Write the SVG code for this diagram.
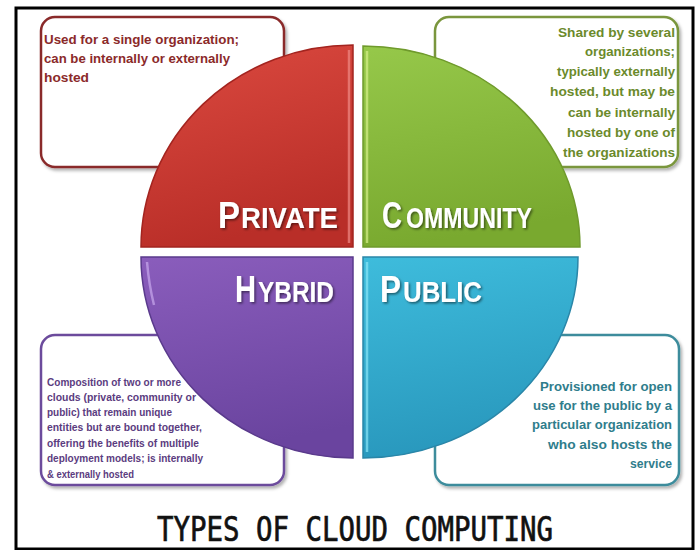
<svg xmlns="http://www.w3.org/2000/svg" width="700" height="550" viewBox="0 0 700 550">
  <defs>
    <linearGradient id="gRed" x1="0" y1="0" x2="0.3" y2="1">
      <stop offset="0" stop-color="#dc4a40"/>
      <stop offset="1" stop-color="#b92e28"/>
    </linearGradient>
    <linearGradient id="gGreen" x1="0" y1="0" x2="0.2" y2="1">
      <stop offset="0" stop-color="#96c84a"/>
      <stop offset="1" stop-color="#79a92f"/>
    </linearGradient>
    <linearGradient id="gPurple" x1="0" y1="0" x2="0.2" y2="1">
      <stop offset="0" stop-color="#8a5dbc"/>
      <stop offset="1" stop-color="#6a449f"/>
    </linearGradient>
    <linearGradient id="gBlue" x1="0" y1="0" x2="0.2" y2="1">
      <stop offset="0" stop-color="#3ebcdc"/>
      <stop offset="1" stop-color="#2998bd"/>
    </linearGradient>
    <filter id="shadow" x="-10%" y="-10%" width="125%" height="125%">
      <feDropShadow dx="2" dy="2.5" stdDeviation="1.5" flood-color="#000" flood-opacity="0.3"/>
    </filter>
    <filter id="textShadow" x="-10%" y="-20%" width="125%" height="150%">
      <feDropShadow dx="1.5" dy="1.5" stdDeviation="0.8" flood-color="#000" flood-opacity="0.5"/>
    </filter>
  </defs>
  <style>
    .box { fill: #ffffff; stroke-width: 2.5; filter: url(#shadow); }
    .desc { font-family: "Liberation Sans", Arial, sans-serif; font-weight: bold; font-size: 12px; }
    .small { font-size: 10px; }
    .label { font-family: "Liberation Sans", Arial, sans-serif; font-weight: bold; fill: #ffffff; filter: url(#textShadow); }
    .big { font-size: 36px; }
    .sc { font-size: 29px; }
    .title { font-family: "DejaVu Sans Mono", "Liberation Mono", monospace; font-size: 33px; fill: #111111; stroke: #111111; stroke-width: 0.7; }
    .quarter { stroke-width: 1.5; }
    .shine { fill: none; stroke-width: 2.5; stroke-opacity: 0.7; }
  </style>

  <rect x="0" y="0" width="700" height="550" fill="#ffffff"/>
  <!-- outer frame -->
  <rect x="16" y="8" width="677" height="541" fill="none" stroke="#000000" stroke-width="3"/>

  <!-- description boxes (drawn below the disc) -->
  <g id="private-note">
    <rect class="box" x="41" y="17" width="243" height="150" rx="14" stroke="#8a2c2c"/>
    <g class="desc" fill="#8b2a2a">
      <text x="44" y="44" textLength="195" lengthAdjust="spacingAndGlyphs">Used for a single organization;</text>
      <text x="44" y="63" textLength="186" lengthAdjust="spacingAndGlyphs">can be internally or externally</text>
      <text x="44" y="82" textLength="45" lengthAdjust="spacingAndGlyphs">hosted</text>
    </g>
  </g>

  <g id="community-note">
    <rect class="box" x="435" y="17" width="243" height="150" rx="14" stroke="#7a963c"/>
    <g class="desc" fill="#6b8a2b" text-anchor="end">
      <text x="675" y="37" textLength="117" lengthAdjust="spacingAndGlyphs">Shared by several</text>
      <text x="675" y="56" textLength="90" lengthAdjust="spacingAndGlyphs">organizations;</text>
      <text x="675" y="76" textLength="118" lengthAdjust="spacingAndGlyphs">typically externally</text>
      <text x="675" y="96" textLength="125" lengthAdjust="spacingAndGlyphs">hosted, but may be</text>
      <text x="675" y="117" textLength="107" lengthAdjust="spacingAndGlyphs">can be internally</text>
      <text x="675" y="137" textLength="108" lengthAdjust="spacingAndGlyphs">hosted by one of</text>
      <text x="675" y="157" textLength="112" lengthAdjust="spacingAndGlyphs">the organizations</text>
    </g>
  </g>

  <g id="hybrid-note">
    <rect class="box" x="41" y="335" width="243" height="150" rx="14" stroke="#6c4c9c"/>
    <g class="desc small" fill="#5b3c80">
      <text x="47" y="386" textLength="134" lengthAdjust="spacingAndGlyphs">Composition of two or more</text>
      <text x="47" y="401" textLength="149" lengthAdjust="spacingAndGlyphs">clouds (private, community or</text>
      <text x="47" y="416" textLength="125" lengthAdjust="spacingAndGlyphs">public) that remain unique</text>
      <text x="47" y="431" textLength="155" lengthAdjust="spacingAndGlyphs">entities but are bound together,</text>
      <text x="47" y="447" textLength="152" lengthAdjust="spacingAndGlyphs">offering the benefits of multiple</text>
      <text x="47" y="462" textLength="156" lengthAdjust="spacingAndGlyphs">deployment models; is internally</text>
      <text x="47" y="478" textLength="87" lengthAdjust="spacingAndGlyphs">&amp; externally hosted</text>
    </g>
  </g>

  <g id="public-note">
    <rect class="box" x="435" y="335" width="244" height="150" rx="14" stroke="#3c8c9c"/>
    <g class="desc" fill="#2f7d8c" text-anchor="end">
      <text x="672" y="391" textLength="132" lengthAdjust="spacingAndGlyphs">Provisioned for open</text>
      <text x="672" y="410" textLength="139" lengthAdjust="spacingAndGlyphs">use for the public by a</text>
      <text x="672" y="429" textLength="140" lengthAdjust="spacingAndGlyphs">particular organization</text>
      <text x="672" y="449" textLength="124" lengthAdjust="spacingAndGlyphs">who also hosts the</text>
      <text x="672" y="468" textLength="42" lengthAdjust="spacingAndGlyphs">service</text>
    </g>
  </g>

  <!-- the four quarters of the disc -->
  <g id="private">
    <path class="quarter" d="M353,247 L141,247 A212,202 0 0 1 353,45 Z" fill="url(#gRed)" stroke="#a3241f"/>
    <path class="shine" d="M349,50 L349,243" stroke="#f08a84"/>
    <g class="label">
      <text class="big" x="218" y="228" textLength="22" lengthAdjust="spacingAndGlyphs">P</text>
      <text class="sc" x="241" y="228" textLength="97" lengthAdjust="spacingAndGlyphs">RIVATE</text>
    </g>
  </g>

  <g id="community">
    <path class="quarter" d="M363,247 L363,46 A217,201 0 0 1 580,247 Z" fill="url(#gGreen)" stroke="#6f9a2c"/>
    <path class="shine" d="M367,51 L367,243" stroke="#d6ef8a"/>
    <g class="label">
      <text class="big" x="382" y="228" textLength="20" lengthAdjust="spacingAndGlyphs">C</text>
      <text class="sc" x="406" y="228" textLength="126" lengthAdjust="spacingAndGlyphs">OMMUNITY</text>
    </g>
  </g>

  <g id="hybrid">
    <path class="quarter" d="M353,257 L353,458 A212,201 0 0 1 141,257 Z" fill="url(#gPurple)" stroke="#5a3a8c"/>
    <path class="shine" d="M147,262 Q149,285 154,305" stroke="#c7a8ec"/>
    <g class="label">
      <text class="big" x="235" y="302" textLength="21" lengthAdjust="spacingAndGlyphs">H</text>
      <text class="sc" x="258" y="302" textLength="76" lengthAdjust="spacingAndGlyphs">YBRID</text>
    </g>
  </g>

  <g id="public">
    <path class="quarter" d="M363,257 L578,257 A215,201 0 0 1 363,458 Z" fill="url(#gBlue)" stroke="#2a86a8"/>
    <path class="shine" d="M367,262 L367,452" stroke="#8ae6f6"/>
    <g class="label">
      <text class="big" x="380" y="302" textLength="21" lengthAdjust="spacingAndGlyphs">P</text>
      <text class="sc" x="403" y="302" textLength="79" lengthAdjust="spacingAndGlyphs">UBLIC</text>
    </g>
  </g>

  <!-- connectors: none, boxes sit directly behind the disc -->
  <g id="connectors"/>

  <text class="title" x="157" y="541" textLength="396" lengthAdjust="spacingAndGlyphs">TYPES OF CLOUD COMPUTING</text>
</svg>
